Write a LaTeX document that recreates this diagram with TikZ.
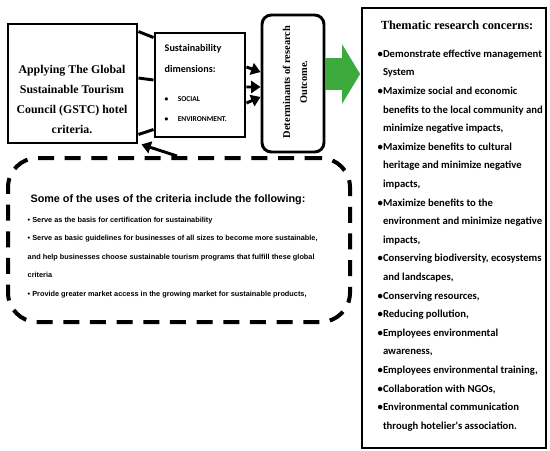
\documentclass[tikz,border=0pt]{standalone}
\usepackage{fontspec}
\setmainfont{Liberation Serif}
\newfontfamily\calib{Carlito}
\newfontfamily\arial{Liberation Sans}
\usetikzlibrary{arrows.meta}

\definecolor{arrowgreen}{RGB}{61,170,61}
\newcommand{\ind}{\phantom{\textbullet}}

\tikzset{
  box/.style={draw, line width=2.2pt, inner sep=0pt},
  link/.style={line width=2.2pt},
  feed/.style={line width=2.2pt, -{Triangle[length=7pt,width=9pt]}},
}

\begin{document}
\begin{tikzpicture}[x=0.75pt,y=-0.75pt]
\useasboundingbox (0,0) rectangle (550,450);

% main boxes
\node[box, minimum width=96.75pt, minimum height=89.25pt] (gstc) at (72.5,83.5) {};
\node[box, minimum width=67.5pt, minimum height=78pt] (dims) at (200,85) {};
\node[box, rounded corners=7pt, minimum width=46.5pt, minimum height=102.75pt] (outcome) at (293,83.5) {};
\node[draw, line width=1.6pt, minimum width=138pt, minimum height=330pt] (themes) at (454,228) {};
\node[draw, line width=3pt, dash pattern=on 12pt off 8pt, rounded corners=22pt,
      minimum width=256.5pt, minimum height=123pt] (uses) at (179,240) {};

% texts
\node[align=center, font=\bfseries\fontsize{8.9}{15}\selectfont] (gstctext) at (72,99)
  {Applying The Global\\Sustainable Tourism\\Council (GSTC) hotel\\criteria.};
\node[align=left, anchor=north west, font=\calib\bfseries\fontsize{7.6}{15.5}\selectfont] (dimstext) at (160,40)
  {Sustainability\\dimensions:};
\node[align=left, anchor=north west, font=\calib\bfseries\fontsize{5.6}{15}\selectfont] (dimslist) at (160,92)
  {\textbullet\hspace{7pt}SOCIAL\\\textbullet\hspace{7pt}ENVIRONMENT.};
\node[rotate=90, align=center, font=\bfseries\fontsize{7.8}{12.75}\selectfont] (outcometext) at (295,82)
  {Determinants of research\\Outcome.};
\node[font=\bfseries\fontsize{9.3}{12}\selectfont] (themestitle) at (457,25) {Thematic research concerns:};
\node[align=left, anchor=north west, font=\calib\bfseries\fontsize{8}{13.95}\selectfont] (themeslist) at (373,45)
  {\textbullet Demonstrate effective management\\
   \ind System\\
   \textbullet Maximize social and economic\\
   \ind benefits to the local community and\\
   \ind minimize negative impacts,\\
   \textbullet Maximize benefits to cultural\\
   \ind heritage and minimize negative\\
   \ind impacts,\\
   \textbullet Maximize benefits to the\\
   \ind environment and minimize negative\\
   \ind impacts,\\
   \textbullet Conserving biodiversity, ecosystems\\
   \ind and landscapes,\\
   \textbullet Conserving resources,\\
   \textbullet Reducing pollution,\\
   \textbullet Employees environmental\\
   \ind awareness,\\
   \textbullet Employees environmental training,\\
   \textbullet Collaboration with NGOs,\\
   \textbullet Environmental communication\\
   \ind through hotelier's association.};
\node[font=\arial\bfseries\fontsize{8.1}{10}\selectfont] (usestitle) at (168,200)
  {Some of the uses of the criteria include the following:};
\node[align=left, anchor=north west, font=\arial\bfseries\fontsize{5.5}{13.95}\selectfont] (useslist) at (23,212)
  {\textbullet{} Serve as the basis for certification for sustainability\\
   \textbullet{} Serve as basic guidelines for businesses of all sizes to become more sustainable,\\
   and help businesses choose sustainable tourism programs that fulfill these global\\
   criteria\\
   \textbullet{} Provide greater market access in the growing market for sustainable products,};

% connectors
\draw[link] ([yshift=-6.75pt]gstc.north east) -- ([yshift=-4.5pt]dims.north west);
\draw[link] ([yshift=4.1pt]gstc.east) -- ([yshift=3.75pt]dims.west);
\draw[link] ([yshift=7.5pt]gstc.south east) -- ([yshift=6.75pt]dims.south west);
\draw[feed] ([yshift=13.5pt]dims.east) -- ([yshift=8.6pt]outcome.west);
\draw[feed] ([yshift=-1.5pt]dims.east) -- ([yshift=-2.6pt]outcome.west);
\draw[feed] ([yshift=-13.5pt]dims.east) -- ([yshift=-10.1pt]outcome.west);
\draw[feed] ([xshift=-1.5pt]uses.north) -- ([xshift=2.25pt]gstc.south east);
\coordinate (gtail) at ([yshift=7.1pt]outcome.east);
\draw[arrowgreen, line width=24pt, -{Triangle[length=13.5pt,width=44pt]}]
  (gtail) -- ([xshift=-0.6pt]gtail -| themes.west);
\end{tikzpicture}
\end{document}
